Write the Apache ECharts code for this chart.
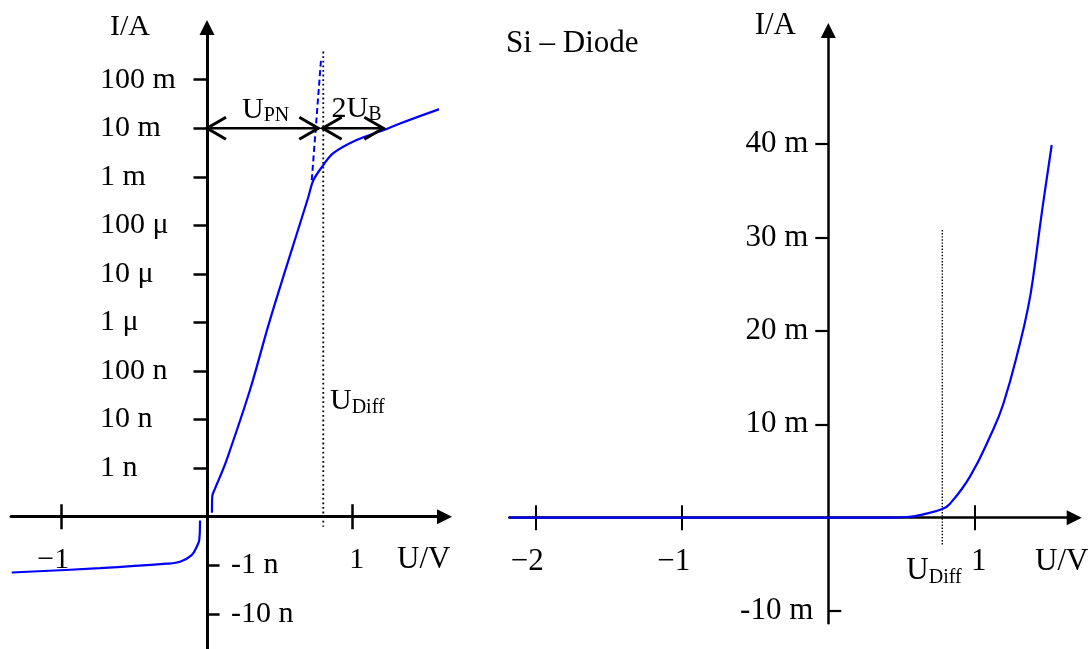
<!DOCTYPE html>
<html>
<head>
<meta charset="utf-8">
<script src="https://cdn.jsdelivr.net/npm/echarts@6/dist/echarts.min.js"></script>
<style>html,body{margin:0;padding:0;background:#fff}#c{width:1090px;height:649px}</style>
</head>
<body>
<div id="c"></div>
<script>
// ===================== DATA =====================
// Left panel – semi-logarithmic diode characteristic (U in V, I in A)
const fwdU = [0.034, 0.036, 0.055, 0.089, 0.135, 0.295, 0.432, 0.695, 0.73, 0.798, 0.867, 1.027, 1.21, 1.325, 1.748];
const fwdI = [1.2e-10, 2.6e-10, 3.8e-10, 6.6e-10, 1.48e-9, 4.07e-8, 1.12e-6, 3.8e-4, 8.5e-4, 1.74e-3, 3.09e-3, 5.75e-3, 9.1e-3, 1.26e-2, 3.63e-2];
const revU = [-1.34, -0.734, -0.277, -0.185, -0.105, -0.071, -0.053, -0.048];
const revI = [-1.41e-9, -1.15e-9, -9.3e-10, -8.5e-10, -6.2e-10, -4.2e-10, -3.0e-10, -1.2e-10];
const tangentU = [0.719, 0.782];
const tangentI = [8.5e-4, 0.245];
const leftYTicks = [1e-9, 1e-8, 1e-7, 1e-6, 1e-5, 1e-4, 1e-3, 1e-2, 1e-1];
const leftYTickLabels = ['1 n', '10 n', '100 n', '1 μ', '10 μ', '100 μ', '1 m', '10 m', '100 m'];
const leftYNegTicks = [-1e-9, -1e-8];
const leftYNegLabels = ['-1 n', '-10 n'];
const leftXTicks = [-1, 1];
const leftXTickLabels = ['−1', '1'];
const uDiffLeft = 0.798;
const arrowUPN = [0, 0.764];
const arrow2UB = [0.794, 1.21];
const arrowLevelI = 1e-2;

// Right panel – linear Si diode characteristic (U in V, I in A)
const siU = [-2.18, -1, 0, 0.4, 0.535, 0.649, 0.778, 0.831, 0.967, 1.11, 1.195, 1.309, 1.365, 1.399, 1.457, 1.525];
const siI = [0, 0, 0, 1e-5, 7e-5, 3.6e-4, 9.3e-4, 1.5e-3, 4.4e-3, 8.9e-3, 1.22e-2, 1.87e-2, 2.26e-2, 2.58e-2, 3.26e-2, 3.99e-2];
const rightYTicks = [0.01, 0.02, 0.03, 0.04];
const rightYTickLabels = ['10 m', '20 m', '30 m', '40 m'];
const rightYNegTicks = [-0.01];
const rightYNegLabels = ['-10 m'];
const rightXTicks = [-2, -1, 1];
const rightXTickLabels = ['−2', '−1', '1'];
const uDiffRight = 0.778;

// ===================== helpers =====================
const F = "'Liberation Serif','Times New Roman',serif";
const BLUE = '#0000ff';
const I0 = 1e-10; // decade axis: origin one decade below 1 nA
function logPos(i) { return i >= 0 ? Math.log10(i / I0) : -Math.log10(-i / I0); }
function lookup(vals, labels) {
  return function (v) {
    for (let k = 0; k < vals.length; k++) if (Math.abs(vals[k] - v) < 1e-6) return labels[k];
    return '';
  };
}
function xFmt(vals, labels) {
  const f = lookup(vals, labels);
  return v => (v < 0 ? '{n|' : '{p|') + f(v) + '}';
}
function xRich(fs) {
  return {
    n: { fontSize: fs, fontFamily: F, color: '#000', lineHeight: fs, padding: [0, 16, 0, 0] },
    p: { fontSize: fs, fontFamily: F, color: '#000', lineHeight: fs, padding: [0, 0, 0, 8] }
  };
}
const leftYPos = leftYTicks.map(logPos);
const leftYNegPos = leftYNegTicks.map(logPos);
const arrowLevel = logPos(arrowLevelI);

function subRich(fs, sfs) {
  return {
    m: { fontSize: fs, fontFamily: F, fill: '#000', lineHeight: fs, verticalAlign: 'top' },
    s: { fontSize: sfs, fontFamily: F, fill: '#000', lineHeight: fs + 1, verticalAlign: 'bottom' }
  };
}

// layout: grids and axis extents
const GL = { left: 11, top: 35, width: 426, height: 614 };
const GR = { left: 509.3, top: 38, width: 557.4, height: 585.3 };
const L = { xmin: -1.3452, xmax: 1.5786, ymin: -2.725, ymax: 9.9217 };
const R = { xmin: -2.1775, xmax: 1.6273, ymin: -0.01131, ymax: 0.05136 };
// place the axes through the origin (offset inward from grid edge)
const offY = (e, g) => -((0 - e.xmin) / (e.xmax - e.xmin)) * g.width;   // y axis moved right
const offX = (e, g) => -((0 - e.ymin) / (e.ymax - e.ymin)) * g.height;  // x axis moved up
const arrowSym = { symbol: ['none', 'triangle'], symbolSize: [15, 15], symbolOffset: [0, 7.5] };

const option = {
  backgroundColor: '#fff',
  animation: false,
  textStyle: { fontFamily: F, color: '#000' },
  title: {
    text: 'Si – Diode', left: 506, top: 28, padding: 0,
    textStyle: { fontSize: 31, fontWeight: 'normal', fontFamily: F, color: '#000', lineHeight: 31 }
  },
  grid: [
    Object.assign({ outerBoundsMode: 'none', containLabel: false }, GL),
    Object.assign({ outerBoundsMode: 'none', containLabel: false }, GR)
  ],
  xAxis: [
    { // left main
      gridIndex: 0, type: 'value', min: L.xmin, max: L.xmax, position: 'bottom', offset: offX(L, GL),
      axisLine: Object.assign({ show: true, onZero: false, lineStyle: { color: '#000', width: 3 } }, arrowSym),
      axisTick: { show: true, inside: false, length: 12.5, customValues: leftXTicks, lineStyle: { color: '#000', width: 2.5 } },
      axisLabel: { show: true, customValues: leftXTicks, margin: 28, formatter: xFmt(leftXTicks, leftXTickLabels), rich: xRich(30), color: '#000' },
      splitLine: { show: false },
      name: 'U/V', nameLocation: 'end', nameGap: -40, nameMoveOverlap: false,
      nameTextStyle: { fontSize: 31, fontFamily: F, color: '#000', lineHeight: 30, align: 'left', verticalAlign: 'top', padding: [28, 0, 0, 0] }
    },
    { // left duplicate (upper half of crossing ticks)
      gridIndex: 0, type: 'value', min: L.xmin, max: L.xmax, position: 'bottom', offset: offX(L, GL),
      axisLine: { show: true, onZero: false, lineStyle: { color: '#000', opacity: 0 } },
      axisTick: { show: true, inside: true, length: 12.5, customValues: leftXTicks, lineStyle: { color: '#000', width: 2.5, opacity: 1 } },
      axisLabel: { show: false }, splitLine: { show: false }
    },
    { // right main
      gridIndex: 1, type: 'value', min: R.xmin, max: R.xmax, position: 'bottom', offset: offX(R, GR),
      axisLine: Object.assign({ show: true, onZero: false, lineStyle: { color: '#000', width: 2.5 } }, arrowSym),
      axisTick: { show: true, inside: false, length: 12.5, customValues: rightXTicks, lineStyle: { color: '#000', width: 2 } },
      axisLabel: { show: true, customValues: rightXTicks, margin: 29, formatter: xFmt(rightXTicks, rightXTickLabels), rich: xRich(31), color: '#000' },
      splitLine: { show: false },
      name: 'U/V', nameLocation: 'end', nameGap: -31.7, nameMoveOverlap: false,
      nameTextStyle: { fontSize: 31, fontFamily: F, color: '#000', lineHeight: 31, align: 'left', verticalAlign: 'top', padding: [28.5, 0, 0, 0] }
    },
    { // right duplicate
      gridIndex: 1, type: 'value', min: R.xmin, max: R.xmax, position: 'bottom', offset: offX(R, GR),
      axisLine: { show: true, onZero: false, lineStyle: { color: '#000', opacity: 0 } },
      axisTick: { show: true, inside: true, length: 12.5, customValues: rightXTicks, lineStyle: { color: '#000', width: 2, opacity: 1 } },
      axisLabel: { show: false }, splitLine: { show: false }
    }
  ],
  yAxis: [
    { // left main (positive decades)
      gridIndex: 0, type: 'value', min: L.ymin, max: L.ymax, position: 'left', offset: offY(L, GL),
      axisLine: Object.assign({ show: true, onZero: false, lineStyle: { color: '#000', width: 3 } }, arrowSym),
      axisTick: { show: true, inside: false, length: 13.5, customValues: leftYPos, lineStyle: { color: '#000', width: 2.5 } },
      axisLabel: { show: true, customValues: leftYPos, margin: 107, align: 'left', formatter: lookup(leftYPos, leftYTickLabels),
                   fontSize: 30, fontFamily: F, color: '#000', lineHeight: 30, padding: [0, 0, 10, 0] },
      splitLine: { show: false },
      name: 'I/A', nameLocation: 'end', nameGap: 7.5, nameMoveOverlap: false,
      nameTextStyle: { fontSize: 30, fontFamily: F, color: '#000', lineHeight: 30, align: 'right', verticalAlign: 'middle', padding: [0, 57, 0, 0] }
    },
    { // left negative ticks
      gridIndex: 0, type: 'value', min: L.ymin, max: L.ymax, position: 'left', offset: offY(L, GL),
      axisLine: { show: true, onZero: false, lineStyle: { color: '#000', opacity: 0 } },
      axisTick: { show: true, inside: true, length: 12.6, customValues: leftYNegPos, lineStyle: { color: '#000', width: 2.5, opacity: 1 } },
      axisLabel: { show: true, inside: true, customValues: leftYNegPos, margin: 24, align: 'left', formatter: lookup(leftYNegPos, leftYNegLabels),
                   fontSize: 30, fontFamily: F, color: '#000', lineHeight: 30, padding: [0, 0, 10, 0] },
      splitLine: { show: false }
    },
    { // right main
      gridIndex: 1, type: 'value', min: R.ymin, max: R.ymax, position: 'left', offset: offY(R, GR),
      axisLine: Object.assign({ show: true, onZero: false, lineStyle: { color: '#000', width: 2.5 } }, arrowSym),
      axisTick: { show: true, inside: false, length: 13, customValues: rightYTicks, lineStyle: { color: '#000', width: 2.2 } },
      axisLabel: { show: true, customValues: rightYTicks, margin: 20, formatter: lookup(rightYTicks, rightYTickLabels),
                   fontSize: 31, fontFamily: F, color: '#000', lineHeight: 31, padding: [0, 0, 3, 0] },
      splitLine: { show: false },
      name: 'I/A', nameLocation: 'end', nameGap: 12.2, nameMoveOverlap: false,
      nameTextStyle: { fontSize: 31, fontFamily: F, color: '#000', lineHeight: 31, align: 'right', verticalAlign: 'middle', padding: [0, 32.3, 0, 0] }
    },
    { // right negative tick
      gridIndex: 1, type: 'value', min: R.ymin, max: R.ymax, position: 'left', offset: offY(R, GR),
      axisLine: { show: true, onZero: false, lineStyle: { color: '#000', opacity: 0 } },
      axisTick: { show: true, inside: true, length: 13, customValues: rightYNegTicks, lineStyle: { color: '#000', width: 2.2, opacity: 1 } },
      axisLabel: { show: true, customValues: rightYNegTicks, margin: 15, formatter: lookup(rightYNegTicks, rightYNegLabels),
                   fontSize: 31, fontFamily: F, color: '#000', lineHeight: 31 },
      splitLine: { show: false }
    }
  ],
  series: [
    { name: 'forward', type: 'line', xAxisIndex: 0, yAxisIndex: 0, clip: false, z: 5,
      data: fwdU.map((u, k) => [u, logPos(fwdI[k])]), showSymbol: false, symbol: 'none',
      smooth: 0.35, lineStyle: { color: BLUE, width: 2.2 } },
    { name: 'reverse', type: 'line', xAxisIndex: 0, yAxisIndex: 0, clip: false, z: 5,
      data: revU.map((u, k) => [u, logPos(revI[k])]), showSymbol: false, symbol: 'none',
      smooth: 0.35, lineStyle: { color: BLUE, width: 2.2 } },
    { name: 'tangent', type: 'line', xAxisIndex: 0, yAxisIndex: 0, clip: false, z: 4,
      data: tangentU.map((u, k) => [u, logPos(tangentI[k])]), showSymbol: false, symbol: 'none',
      lineStyle: { color: BLUE, width: 2, type: [6, 3.5] } },
    { name: 'UDiff-left', type: 'line', xAxisIndex: 0, yAxisIndex: 0, clip: false, z: 3,
      data: [[uDiffLeft, 9.58], [uDiffLeft, -0.206]], showSymbol: false, symbol: 'none',
      lineStyle: { color: '#000', width: 1.8, type: [1.8, 2.8] } },
    { name: 'arrows', type: 'custom', xAxisIndex: 0, yAxisIndex: 0, z: 6,
      data: [[arrowUPN[0], arrowUPN[1], arrowLevel], [arrow2UB[0], arrow2UB[1], arrowLevel]],
      encode: { x: [0, 1], y: 2 },
      renderItem: function (params, api) {
        const a = api.coord([api.value(0), api.value(2)]);
        const b = api.coord([api.value(1), api.value(2)]);
        const hl = 19, hw = 11;
        const st = { stroke: '#000', lineWidth: 3, fill: 'none' };
        return { type: 'group', children: [
          { type: 'line', shape: { x1: a[0], y1: a[1], x2: b[0], y2: b[1] }, style: { stroke: '#000', lineWidth: 2.6 } },
          { type: 'polyline', shape: { points: [[a[0] + hl, a[1] - hw], [a[0], a[1]], [a[0] + hl, a[1] + hw]] }, style: st },
          { type: 'polyline', shape: { points: [[b[0] - hl, b[1] - hw], [b[0], b[1]], [b[0] - hl, b[1] + hw]] }, style: st }
        ] };
      } },
    { name: 'labels-left', type: 'custom', xAxisIndex: 0, yAxisIndex: 0, z: 7,
      data: [[(arrowUPN[0] + arrowUPN[1]) / 2, arrowLevel], [(arrow2UB[0] + arrow2UB[1]) / 2, arrowLevel], [uDiffLeft, logPos(1e-8)]],
      encode: { x: 0, y: 1 },
      renderItem: function (params, api) {
        const p = api.coord([api.value(0), api.value(1)]);
        const texts = ['{m|U}{s|PN}', '{m|2U}{s|B}', '{m|U}{s|Diff}'];
        const dx = [3, 3.5, 6.7], dy = [-18, -19, -17.5];
        const al = ['center', 'center', 'left'];
        const k = params.dataIndex;
        return { type: 'text', x: p[0] + dx[k], y: p[1] + dy[k],
          style: { text: texts[k], rich: subRich(30, 20), align: al[k], verticalAlign: 'middle', fill: '#000', fontFamily: F, fontSize: 30 } };
      } },
    { name: 'Si', type: 'line', xAxisIndex: 2, yAxisIndex: 2, clip: false, z: 5,
      data: siU.map((u, k) => [u, siI[k]]), showSymbol: false, symbol: 'none',
      smooth: 0.45, lineStyle: { color: BLUE, width: 2.2 } },
    { name: 'UDiff-right', type: 'line', xAxisIndex: 2, yAxisIndex: 2, clip: false, z: 3,
      data: [[uDiffRight, 0.0308], [uDiffRight, -0.00292]], showSymbol: false, symbol: 'none',
      lineStyle: { color: '#000', width: 1.4, type: [1.4, 1.7] } },
    { name: 'labels-right', type: 'custom', xAxisIndex: 2, yAxisIndex: 2, z: 7,
      data: [[uDiffRight, 0]], encode: { x: 0, y: 1 },
      renderItem: function (params, api) {
        const p = api.coord([api.value(0), api.value(1)]);
        return { type: 'text', x: p[0] + 19.4, y: p[1] + 53.6,
          style: { text: '{m|U}{s|Diff}', rich: subRich(31, 20), align: 'right', verticalAlign: 'middle', fill: '#000', fontFamily: F, fontSize: 31 } };
      } }
  ]
};
const chart = echarts.init(document.getElementById('c'));
chart.setOption(option);
</script>
</body>
</html>
